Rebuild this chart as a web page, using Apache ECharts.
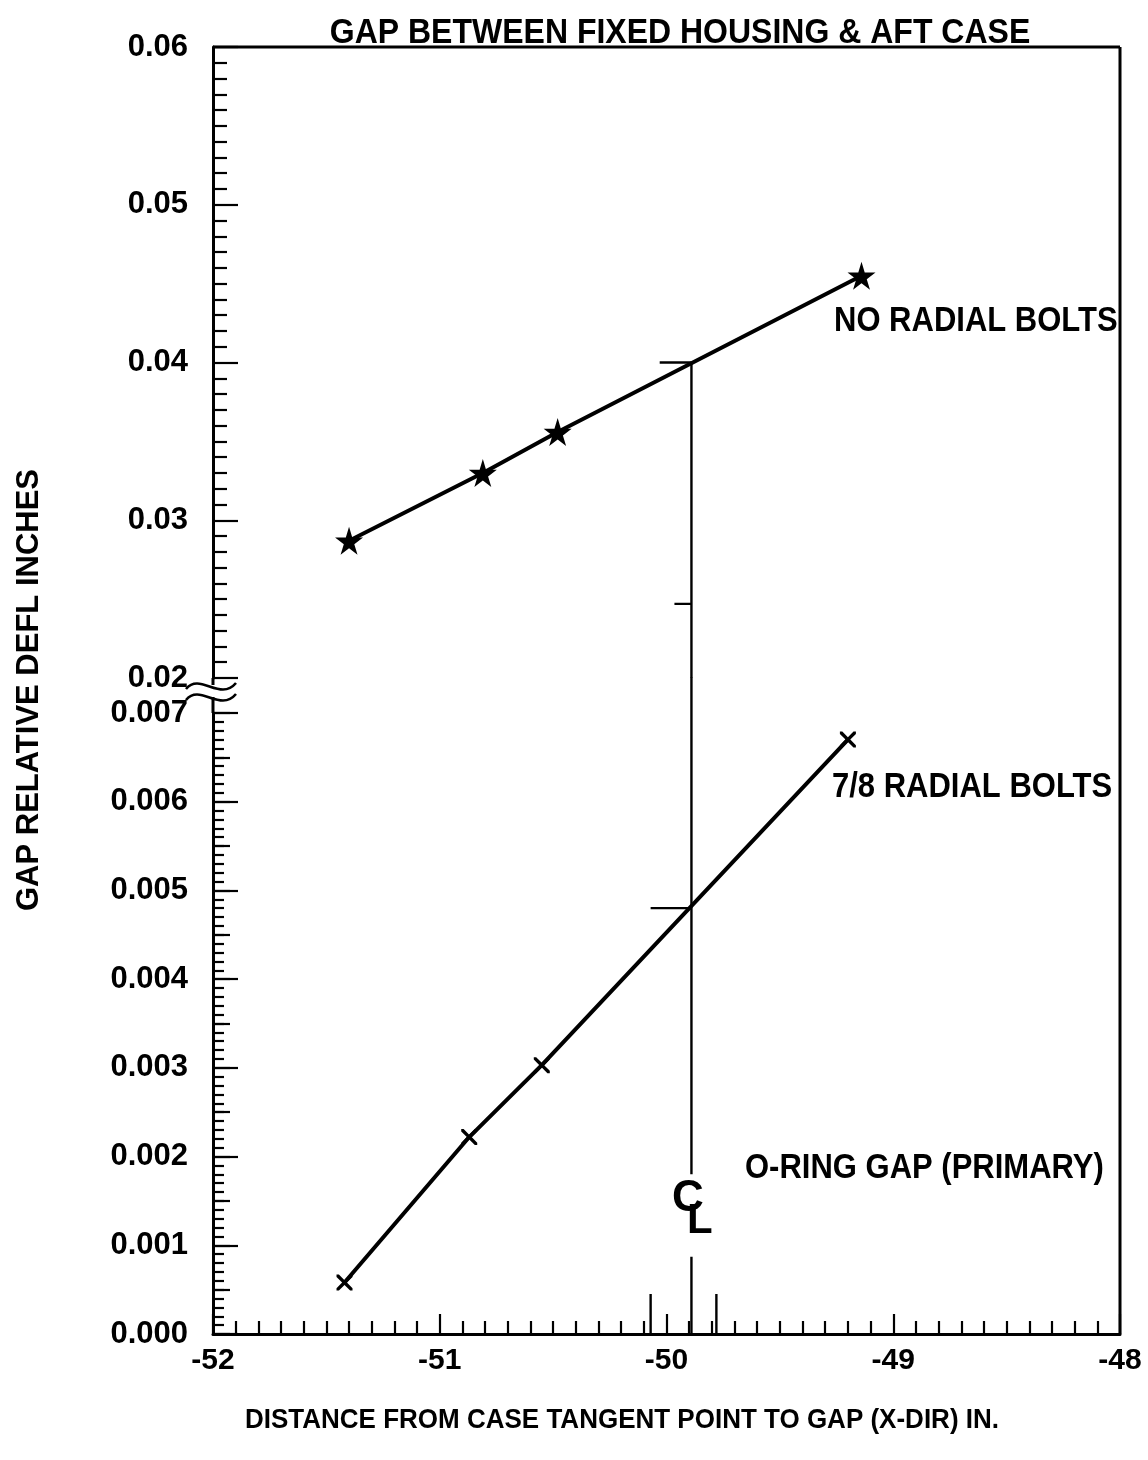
<!DOCTYPE html>
<html>
<head>
<meta charset="utf-8">
<script src="https://cdn.jsdelivr.net/npm/echarts@6/dist/echarts.min.js"></script>
<style>
html, body { margin: 0; padding: 0; background: #fff; }
#chart { width: 1148px; height: 1460px; }
</style>
</head>
<body>
<div id="chart"></div>
<script>
// values
var noBoltsX = [-51.40, -50.81, -50.48, -49.14];
var noBoltsY = [0.0287, 0.0330, 0.0356, 0.0455];
var boltsX = [-51.42, -50.87, -50.55, -49.20];
var boltsY = [0.00058, 0.00222, 0.00303, 0.0067];

var xRange = [-52, -48];
var upperRange = [0.02, 0.06];   // part of the y axis above the break
var lowerRange = [0, 0.007];     // part below the break

// centre line (CL) and its little marks
var clX = -49.89;
var clUpperY = [0.04, 0.02];
var clLowerY = [0.0074, 0.0018];
var clUpperDashes = [[0.04, 0.14], [0.0247, 0.075]];   // [y, length to the left]
var clLowerDashes = [[0.0048, 0.18]];
var footTicks = [[-49.89, 0.00087], [-50.07, 0.00045], [-49.78, 0.00045]]; // [x, height]

var FONT = "'Liberation Sans', Arial, sans-serif";
var L = 213, W = 907, TOP = 47, UPPER_H = 631, LOWER_TOP = 713, LOWER_H = 621;
var BOTTOM = LOWER_TOP + LOWER_H;

var starPath = 'path://M50,0 L61,35 L98,35 L68,57 L79,91 L50,70 L21,91 L32,57 L2,35 L39,35 Z';
var crossPath = 'path://M0,0 L3,0 L10,7 L17,0 L20,0 L20,3 L13,10 L20,17 L20,20 L17,20 L10,13 L3,20 L0,20 L0,17 L7,10 L0,3 Z';

function zip(xs, ys) {
    return xs.map(function (x, i) { return [x, ys[i]]; });
}

function segment(grid, pts, clip) {
    return {
        type: 'line',
        xAxisIndex: grid,
        yAxisIndex: grid,
        data: pts,
        symbol: 'none',
        clip: clip !== false,
        lineStyle: { color: '#000', width: 2.4 },
        silent: true
    };
}

var series = [
    {
        type: 'line',
        xAxisIndex: 0, yAxisIndex: 0,
        data: zip(noBoltsX, noBoltsY),
        symbol: starPath, symbolSize: 28,
        itemStyle: { color: '#000' },
        lineStyle: { color: '#000', width: 4 }
    },
    {
        type: 'line',
        xAxisIndex: 1, yAxisIndex: 1,
        data: zip(boltsX, boltsY),
        symbol: crossPath, symbolSize: 16,
        itemStyle: { color: '#000' },
        lineStyle: { color: '#000', width: 4 }
    },
    segment(0, [[clX, clUpperY[0]], [clX, clUpperY[1]]]),
    segment(1, [[clX, clLowerY[0]], [clX, clLowerY[1]]], false)
];
clUpperDashes.forEach(function (d) {
    series.push(segment(0, [[clX - d[1], d[0]], [clX, d[0]]]));
});
clLowerDashes.forEach(function (d) {
    series.push(segment(1, [[clX - d[1], d[0]], [clX, d[0]]]));
});
footTicks.forEach(function (t) {
    series.push(segment(1, [[t[0], 0], [t[0], t[1]]]));
});

function xAxis(grid, visible) {
    return {
        type: 'value', gridIndex: grid,
        min: xRange[0], max: xRange[1], interval: 1,
        splitLine: { show: false },
        axisLine: { show: visible, onZero: false, lineStyle: { color: '#000', width: 3 } },
        axisTick: { show: visible, inside: true, length: 20, lineStyle: { color: '#000', width: 2.2 } },
        minorTick: { show: visible, splitNumber: 10, length: 13, lineStyle: { color: '#000', width: 2.2 } },
        axisLabel: { show: visible, margin: 12, fontSize: 30, fontWeight: 'bold', color: '#000', fontFamily: FONT }
    };
}

function yAxis(grid, range, step, digits, minorLen) {
    return {
        type: 'value', gridIndex: grid, position: 'left',
        min: range[0], max: range[1], interval: step,
        splitLine: { show: false },
        axisLine: { show: true, onZero: false, lineStyle: { color: '#000', width: 3 } },
        axisTick: { inside: true, length: 25, lineStyle: { color: '#000', width: 2.2 } },
        minorTick: { show: true, splitNumber: 10, length: minorLen, lineStyle: { color: '#000', width: 2.2 } },
        axisLabel: {
            margin: 25, fontSize: 31, fontWeight: 'bold', color: '#000', fontFamily: FONT,
            formatter: function (v) { return v.toFixed(digits); }
        }
    };
}

// extra half-step ticks on the lower part of the y axis
var halfTicks = {
    type: 'value', gridIndex: 1, position: 'left', offset: 0,
    min: lowerRange[0], max: lowerRange[1], interval: 0.0005,
    splitLine: { show: false },
    axisLine: { show: false },
    axisLabel: { show: false },
    axisTick: { inside: true, length: 17, lineStyle: { color: '#000', width: 2.2 } }
};

function text(x, y, str, size, opts) {
    opts = opts || {};
    return {
        type: 'text', x: x, y: y, silent: true,
        rotation: opts.rotation || 0,
        scaleY: opts.scaleY || 1,
        style: {
            text: str, fill: '#000', font: 'bold ' + size + 'px ' + FONT,
            textAlign: opts.align || 'left', textVerticalAlign: 'middle'
        }
    };
}

function line(x1, y1, x2, y2) {
    return {
        type: 'line', silent: true,
        shape: { x1: x1, y1: y1, x2: x2, y2: y2 },
        style: { stroke: '#000', lineWidth: 3 }
    };
}

function wave(dy) {
    return {
        type: 'bezierCurve', silent: true,
        shape: { x1: 186, y1: 689 + dy, cpx1: 200, cpy1: 672 + dy, cpx2: 220, cpy2: 702 + dy, x2: 236, y2: 683 + dy },
        style: { stroke: '#000', lineWidth: 2.6, fill: null }
    };
}

var graphic = [
    line(L, TOP, L + W, TOP),
    line(L + W, TOP, L + W, BOTTOM),
    line(L, TOP + UPPER_H, L, 685),
    line(L, 697, L, LOWER_TOP),
    wave(0),
    wave(11),
    text(680, 33, 'GAP BETWEEN FIXED HOUSING & AFT CASE', 32, { align: 'center', scaleY: 1.12 }),
    text(834, 321, 'NO RADIAL BOLTS', 31, { scaleY: 1.12 }),
    text(832, 787, '7/8 RADIAL BOLTS', 31, { scaleY: 1.12 }),
    text(745, 1168, 'O-RING GAP (PRIMARY)', 31, { scaleY: 1.12 }),
    text(672, 1199, 'C', 44),
    text(687, 1221, 'L', 42),
    text(622, 1420, 'DISTANCE FROM CASE TANGENT POINT TO GAP (X-DIR) IN.', 26, { align: 'center', scaleY: 1.08 }),
    text(29, 690, 'GAP RELATIVE DEFL INCHES', 31, { align: 'center', rotation: Math.PI / 2 })
];

var myChart = echarts.init(document.getElementById('chart'));
myChart.setOption({
    animation: false,
    backgroundColor: '#fff',
    grid: [
        { left: L, top: TOP, width: W, height: UPPER_H },
        { left: L, top: LOWER_TOP, width: W, height: LOWER_H }
    ],
    xAxis: [xAxis(0, false), xAxis(1, true)],
    yAxis: [
        yAxis(0, upperRange, 0.01, 2, 14),
        yAxis(1, lowerRange, 0.001, 3, 11),
        halfTicks
    ],
    series: series,
    graphic: graphic
});
</script>
</body>
</html>
